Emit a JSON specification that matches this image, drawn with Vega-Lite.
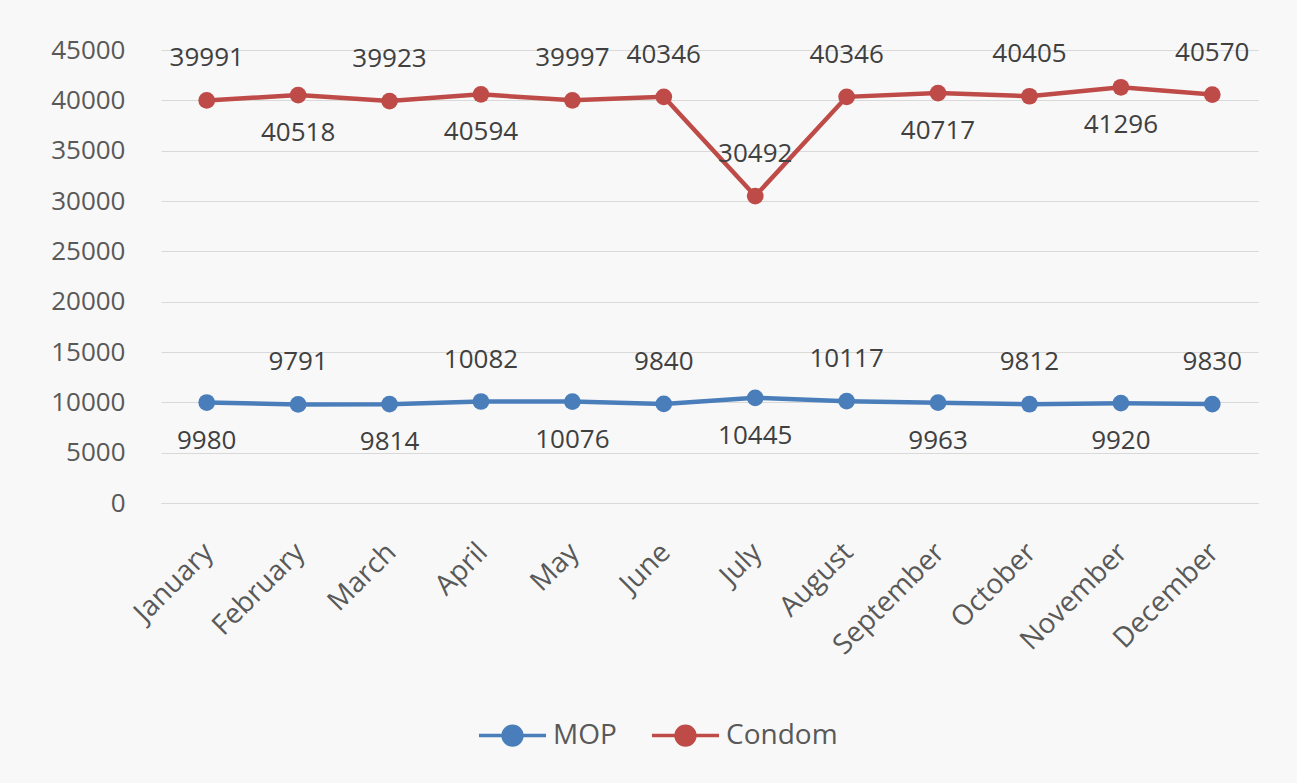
{
  "$schema": "https://vega.github.io/schema/vega-lite/v6.json",
  "width": 1097,
  "height": 453,
  "autosize": "none",
  "padding": {"left": 161, "top": 50, "right": 39, "bottom": 280},
  "background": "#f8f8f8",
  "config": {
    "font": "Open Sans",
    "view": {"stroke": null},
    "axis": {"labelFont": "Open Sans", "labelFontSize": 26, "labelColor": "#595959", "gridColor": "#d9d9d9", "gridWidth": 1.2}
  },
  "data": {
    "values": [
      {"month": "January", "series": "MOP", "value": 9980},
      {"month": "February", "series": "MOP", "value": 9791},
      {"month": "March", "series": "MOP", "value": 9814},
      {"month": "April", "series": "MOP", "value": 10082},
      {"month": "May", "series": "MOP", "value": 10076},
      {"month": "June", "series": "MOP", "value": 9840},
      {"month": "July", "series": "MOP", "value": 10445},
      {"month": "August", "series": "MOP", "value": 10117},
      {"month": "September", "series": "MOP", "value": 9963},
      {"month": "October", "series": "MOP", "value": 9812},
      {"month": "November", "series": "MOP", "value": 9920},
      {"month": "December", "series": "MOP", "value": 9830},
      {"month": "January", "series": "Condom", "value": 39991},
      {"month": "February", "series": "Condom", "value": 40518},
      {"month": "March", "series": "Condom", "value": 39923},
      {"month": "April", "series": "Condom", "value": 40594},
      {"month": "May", "series": "Condom", "value": 39997},
      {"month": "June", "series": "Condom", "value": 40346},
      {"month": "July", "series": "Condom", "value": 30492},
      {"month": "August", "series": "Condom", "value": 40346},
      {"month": "September", "series": "Condom", "value": 40717},
      {"month": "October", "series": "Condom", "value": 40405},
      {"month": "November", "series": "Condom", "value": 41296},
      {"month": "December", "series": "Condom", "value": 40570}
    ]
  },
  "encoding": {
    "x": {
      "field": "month", "type": "ordinal", "sort": null, "title": null,
      "scale": {"paddingOuter": 0.5},
      "axis": {"labelAngle": -45, "labelFontSize": 28, "ticks": false, "domainColor": "#d9d9d9", "domainWidth": 1.2, "labelPadding": 35, "labelOffset": -8, "grid": false}
    },
    "y": {
      "field": "value", "type": "quantitative", "title": null,
      "scale": {"domain": [0, 45000], "nice": false},
      "axis": {"values": [0, 5000, 10000, 15000, 20000, 25000, 30000, 35000, 40000, 45000], "domain": false, "ticks": false, "labelPadding": 36, "format": "d"}
    },
    "color": {
      "field": "series", "type": "nominal",
      "scale": {"domain": ["MOP", "Condom"], "range": ["#4a7ebb", "#be4b48"]},
      "legend": {
        "title": null, "orient": "none", "legendX": 316, "legendY": 650, "direction": "horizontal",
        "symbolType": "M-1,0L1,0M-0.28,0A0.28,0.28,0,1,0,0.28,0A0.28,0.28,0,1,0,-0.28,0Z",
        "symbolSize": 4500, "symbolStrokeWidth": 3.5, "labelFontSize": 28, "labelColor": "#595959",
        "labelFont": "Open Sans", "columnPadding": 27, "labelOffset": 5,
        "encode": {"symbols": {"update": {"fill": {"scale": "color", "field": "value"}, "stroke": {"scale": "color", "field": "value"}, "opacity": {"value": 1}}}}
      }
    }
  },
  "layer": [
    {"mark": {"type": "line", "strokeWidth": 4.5}},
    {"mark": {"type": "point", "filled": true, "size": 280, "opacity": 1}},
    {
      "transform": [{"filter": {"or": [
        {"and": [{"field": "series", "equal": "MOP"}, {"field": "month", "oneOf": ["February", "April", "June", "August", "October", "December"]}]},
        {"and": [{"field": "series", "equal": "Condom"}, {"field": "month", "oneOf": ["January", "March", "May", "June", "July", "August", "October", "December"]}]}
      ]}}],
      "mark": {"type": "text", "dy": -42, "fontSize": 26, "font": "Open Sans", "color": "#404040"},
      "encoding": {"text": {"field": "value", "type": "quantitative", "format": "d"}, "color": {"value": "#404040"}}
    },
    {
      "transform": [{"filter": {"or": [
        {"and": [{"field": "series", "equal": "MOP"}, {"field": "month", "oneOf": ["January", "March", "May", "July", "September", "November"]}]},
        {"and": [{"field": "series", "equal": "Condom"}, {"field": "month", "oneOf": ["February", "April", "September", "November"]}]}
      ]}}],
      "mark": {"type": "text", "dy": 38, "fontSize": 26, "font": "Open Sans", "color": "#404040"},
      "encoding": {"text": {"field": "value", "type": "quantitative", "format": "d"}, "color": {"value": "#404040"}}
    }
  ]
}
